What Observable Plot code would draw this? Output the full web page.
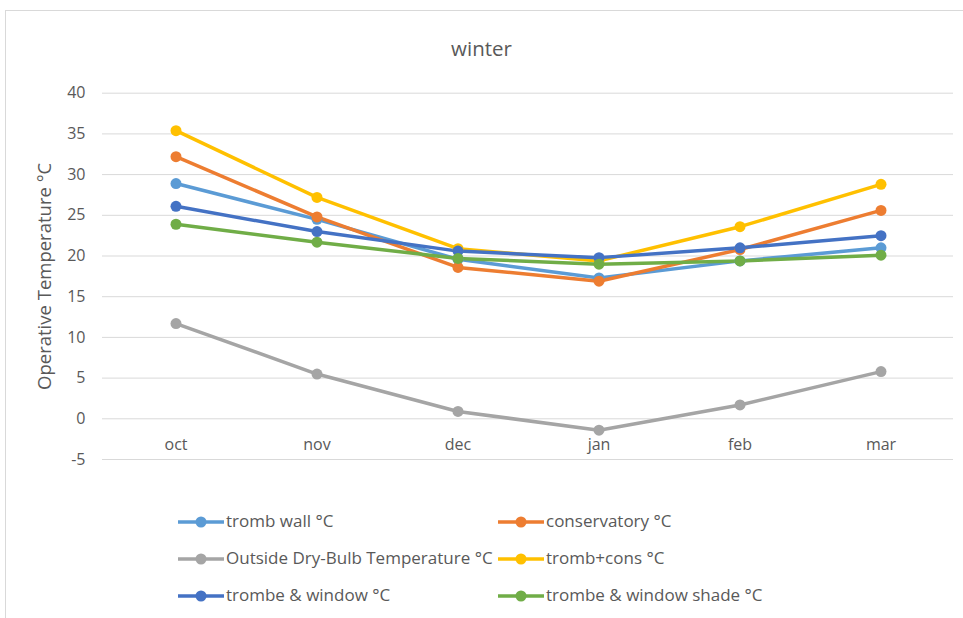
<!DOCTYPE html>
<html>
<head>
<meta charset="utf-8">
<script src="https://cdn.jsdelivr.net/npm/d3@7"></script>
<script src="https://cdn.jsdelivr.net/npm/@observablehq/plot@0.6"></script>
<style>
  html, body { margin: 0; padding: 0; background: #fff; overflow: hidden; }
  #wrap { position: relative; width: 963px; height: 618px; font-family: "Open Sans", sans-serif; color: #595959; }
  #border { position: absolute; left: 5px; top: 10px; width: 1000px; height: 700px; border: 1px solid #d9d9d9; box-sizing: border-box; }
  #title { position: absolute; left: 0; width: 963px; top: 34px; text-align: center; font-size: 20.5px; line-height: 28px; color: #595959; }
  #chart { position: absolute; left: 0; top: 70px; }
  .leg { position: absolute; height: 20px; font-size: 17px; line-height: 20px; white-space: nowrap; color: #595959; }
  .leg svg { position: absolute; left: 0; top: 0; }
  .leg span { position: absolute; left: 48px; top: -1px; }
</style>
</head>
<body>
<div id="wrap">
  <div id="border"></div>
  <div id="title">winter</div>
  <div id="chart"></div>
  <div id="legend"></div>
</div>
<script>
const months = ["oct", "nov", "dec", "jan", "feb", "mar"];
const seriesNames = [
  "tromb wall °C",
  "conservatory °C",
  "Outside Dry-Bulb Temperature °C",
  "tromb+cons °C",
  "trombe & window °C",
  "trombe & window shade °C"
];
const colors = ["#5B9BD5", "#ED7D31", "#A5A5A5", "#FFC000", "#4472C4", "#70AD47"];
const trombWall = [28.9, 24.5, 19.6, 17.3, 19.4, 21.0];
const conservatory = [32.2, 24.8, 18.6, 16.9, 20.8, 25.6];
const outside = [11.7, 5.5, 0.9, -1.4, 1.7, 5.8];
const trombCons = [35.4, 27.2, 20.9, 19.4, 23.6, 28.8];
const trombeWindow = [26.1, 23.0, 20.6, 19.8, 21.0, 22.5];
const trombeShade = [23.9, 21.7, 19.7, 19.0, 19.4, 20.1];
const yTicks = [-5, 0, 5, 10, 15, 20, 25, 30, 35, 40];
const yLabel = "Operative Temperature °C";

const allSeries = [trombWall, conservatory, outside, trombCons, trombeWindow, trombeShade];
const data = [];
allSeries.forEach((vals, si) => {
  vals.forEach((v, mi) => data.push({series: seriesNames[si], month: months[mi], value: v}));
});

const svgH = 410;
const chart = Plot.plot({
  width: 963,
  height: svgH,
  marginLeft: 102,
  marginRight: 10,
  marginTop: 22.7,
  marginBottom: 21,
  style: {fontFamily: "'Open Sans', sans-serif", color: "#595959", background: "transparent"},
  x: {type: "band", domain: months, padding: 0, axis: null},
  y: {domain: [-5, 40], axis: null},
  color: {domain: seriesNames, range: colors},
  marks: [
    Plot.gridY(yTicks, {stroke: "#d9d9d9", strokeOpacity: 1, strokeWidth: 1}),
    Plot.axisY(yTicks, {tickSize: 0, tickPadding: 17, fontSize: 16, fill: "#595959", label: null, tickFormat: d => String(d)}),
    Plot.text([yLabel], {frameAnchor: "left", textAnchor: "middle", rotate: -90, dx: -57, fontSize: 18.5, fill: "#595959"}),
    Plot.text(months, {x: d => d, y: () => 0, dy: 26, fontSize: 16, fill: "#595959"}),
    Plot.line(data, {x: "month", y: "value", z: "series", stroke: "series", strokeWidth: 3.5, curve: "linear"}),
    Plot.dot(data, {x: "month", y: "value", fill: "series", r: 5.5, stroke: "none"})
  ]
});
document.getElementById("chart").appendChild(chart);

// legend
const legend = document.getElementById("legend");
const pos = [[178, 512], [498, 512], [178, 549], [498, 549], [178, 586], [498, 586]];
seriesNames.forEach((name, i) => {
  const d = document.createElement("div");
  d.className = "leg";
  d.style.left = pos[i][0] + "px";
  d.style.top = pos[i][1] + "px";
  d.innerHTML = `<svg width="48" height="20"><line x1="0" x2="46" y1="10" y2="10" stroke="${colors[i]}" stroke-width="3.5"/><circle cx="23" cy="10" r="5.5" fill="${colors[i]}"/></svg><span>${name}</span>`;
  legend.appendChild(d);
});
</script>
</body>
</html>
